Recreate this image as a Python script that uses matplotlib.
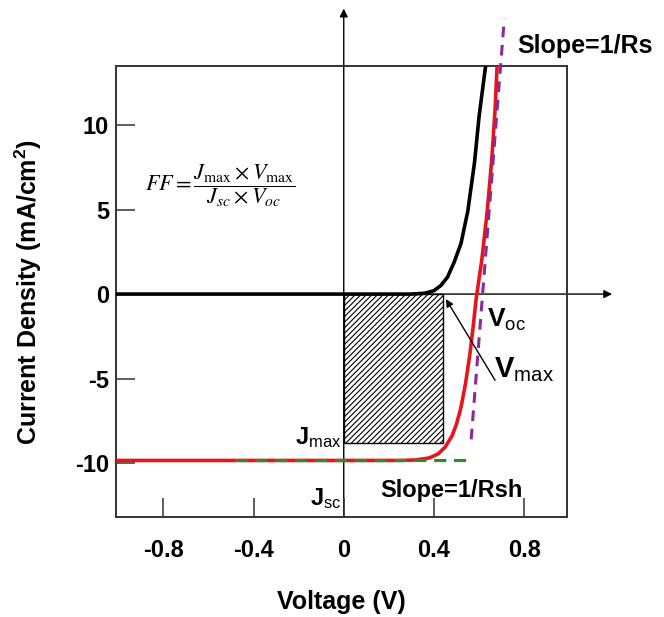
import matplotlib
matplotlib.use("Agg")
import matplotlib.pyplot as plt
from matplotlib.patches import Rectangle

plt.rcParams['font.family'] = ['Liberation Sans', 'DejaVu Sans']
plt.rcParams['mathtext.fontset'] = 'custom'
plt.rcParams['mathtext.rm'] = 'Liberation Sans'
plt.rcParams['mathtext.it'] = 'Liberation Sans'
plt.rcParams['mathtext.bf'] = 'Liberation Sans:bold'
plt.rcParams['hatch.linewidth'] = 0.8

# ---- data ----
v_dark = [-1.01, 0.25, 0.30, 0.36, 0.40, 0.43, 0.46, 0.49, 0.52, 0.55, 0.58, 0.60, 0.63]
j_dark = [0.0, 0.0, 0.0, 0.05, 0.2, 0.5, 1.0, 1.9, 3.0, 4.9, 7.8, 10.5, 13.6]

v_light = [-1.01, 0.25, 0.32, 0.38, 0.42, 0.45, 0.48, 0.50, 0.52, 0.54, 0.56,
           0.575, 0.587, 0.612, 0.637, 0.656, 0.671, 0.68]
j_light = [-9.85, -9.85, -9.82, -9.7, -9.45, -9.05, -8.4, -7.7, -6.7, -5.3, -3.5,
           -1.8, -0.3, 2.0, 5.0, 7.9, 10.9, 13.5]

rs_v = [0.565, 0.712]          # slope = 1/Rs tangent
rs_j = [-8.6, 16.3]
rsh_v = [-0.484, 0.56]         # slope = 1/Rsh tangent
rsh_j = [-9.85, -9.85]

v_max = 0.44
j_max = -8.84

x_ticks = [-0.8, -0.4, 0, 0.4, 0.8]
x_ticklabels = ['-0.8', '-0.4', '0', '0.4', '0.8']
y_ticks = [-10, -5, 0, 5, 10]
y_ticklabels = ['-10', '-5', '0', '5', '10']

# ---- figure ----
fig = plt.figure(figsize=(6.64, 6.17), dpi=100)
ax = fig.add_axes([0.1747, 0.162, 0.6792, 0.731])
ax.set_xlim(-1.01, 0.99)
ax.set_ylim(-13.2, 13.5)

# max power rectangle
ax.add_patch(Rectangle((0, j_max), v_max, -j_max, facecolor='white',
                       edgecolor='black', hatch='//////', lw=1.0, zorder=2))

# curves
ax.plot(v_light, j_light, color='#e8141b', lw=2.6, zorder=3, solid_capstyle='butt')
ax.plot(rsh_v, rsh_j, color='#2e8b2e', lw=2.2, ls=(0, (4, 2.5)), zorder=4)
ax.plot(v_dark, j_dark, color='black', lw=2.6, zorder=5, solid_capstyle='butt')
ax.plot(rs_v, rs_j, color='#8a2a9a', lw=2.2, ls=(0, (3.5, 2.5)), zorder=6, clip_on=False)

# coordinate axes with arrows
ax.annotate('', xy=(0, 16.9), xytext=(0, -13.2),
            arrowprops=dict(arrowstyle='-|>', lw=1.0, color='black', mutation_scale=12,
                            shrinkA=0, shrinkB=0),
            annotation_clip=False, zorder=1)
ax.annotate('', xy=(1.19, 0), xytext=(-1.01, 0),
            arrowprops=dict(arrowstyle='-|>', lw=1.0, color='black', mutation_scale=12,
                            shrinkA=0, shrinkB=0),
            annotation_clip=False, zorder=1)

# Vmax arrow
ax.annotate('', xy=(0.453, -0.3), xytext=(0.671, -5.1),
            arrowprops=dict(arrowstyle='-|>', lw=1.0, color='black', mutation_scale=11,
                            shrinkA=0, shrinkB=0), zorder=7)

# texts
ax.text(0.769, 14.7, 'Slope=1/Rs', fontsize=18, fontweight='bold', ha='left', va='center',
        clip_on=False)
ax.text(0.476, -11.65, 'Slope=1/Rsh', fontsize=17, fontweight='bold', ha='center', va='center')
ax.text(0.635, -1.5, r'$\mathbf{V}_{\mathrm{oc}}$', fontsize=19, ha='left', va='center')
ax.text(0.668, -4.5, r'$\mathbf{V}_{\mathrm{max}}$', fontsize=21, ha='left', va='center')
ax.text(-0.01, -8.5, r'$\mathbf{J}_{\mathrm{max}}$', fontsize=17, ha='right', va='center')
ax.text(-0.01, -12.1, r'$\mathbf{J}_{\mathrm{sc}}$', fontsize=17, ha='right', va='center')
ax.text(-0.88, 6.4, r'$FF=\dfrac{J_{\max}\times V_{\max}}{J_{sc}\times V_{oc}}$',
        fontsize=16, ha='left', va='center', math_fontfamily='stix')

# ticks and spines
ax.set_xticks(x_ticks)
ax.set_xticklabels(x_ticklabels)
ax.set_yticks(y_ticks)
ax.set_yticklabels(y_ticklabels)
ax.tick_params(direction='in', length=14, width=1.1, color='#333333', labelsize=17)
ax.tick_params(axis='x', pad=16)
ax.tick_params(axis='y', pad=5)
for lab in ax.get_xticklabels() + ax.get_yticklabels():
    lab.set_fontweight('bold')
for s in ax.spines.values():
    s.set_linewidth(1.4)
    s.set_color('#333333')

ax.set_xlabel('Voltage (V)', fontsize=18, fontweight='bold', labelpad=20)
ax.set_ylabel(r'Current Density (mA/cm$^{\mathbf{2}}$)', fontsize=18, fontweight='bold',
              labelpad=22)

fig.savefig('out.png', dpi=100)
